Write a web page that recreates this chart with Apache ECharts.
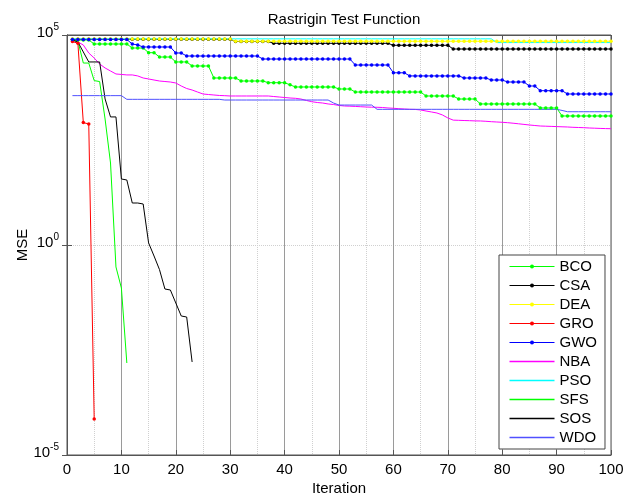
<!DOCTYPE html>
<html>
<head>
<meta charset="utf-8">
<script src="https://cdn.jsdelivr.net/npm/echarts@6/dist/echarts.min.js"></script>
<style>
html,body{margin:0;padding:0;background:#fff;}
#chart{width:632px;height:497px;}
</style>
</head>
<body>
<div id="chart"></div>
<script>
// ---- data (MSE per iteration) ----
const seriesNames = ['BCO','CSA','DEA','GRO','GWO','NBA','PSO','SFS','SOS','WDO'];
const xTicks = [0,10,20,30,40,50,60,70,80,90,100];
const yTicks = [1e-5, 1e0, 1e5];

const BCO = [76000,76000,76000,76000,
61100,61100,61100,61100,61100,61100,61100,
49000,49000,49000,
37900,37900,
29900,29900,29900,
22800,22800,22800,
18300,18300,18300,18300,
9470,9470,9470,9470,9470,
8030,8030,8030,8030,8030,
7310,7310,7310,7310,
6500,
5780,5780,5780,5780,5780,5780,5780,5780,
5180,5180,5180,
4390,4390,4390,4390,4390,4390,4390,4390,4390,4390,4390,4390,4390,
3530,3530,3530,3530,3530,3530,
2990,2990,2990,2990,
2280,2280,2280,2280,2280,2280,2280,2280,2280,2280,2280,
1830,1830,1830,1830,
1180,1180,1180,1180,1180,1180,1180,1180,1180,1180];

const CSA = [79000,79000,79000,79000,79000,79000,79000,79000,79000,79000,
79000,79000,79000,79000,79000,79000,79000,79000,79000,79000,
79000,79000,79000,79000,79000,79000,79000,79000,79000,79000,
70000,70000,70000,70000,70000,70000,70000,
63400,63400,63400,63400,63400,63400,63400,63400,63400,63400,63400,
63400,63400,63400,63400,63400,63400,63400,63400,63400,63400,63400,
56900,56900,56900,56900,56900,56900,56900,56900,56900,56900,56900,
46400,46400,46400,46400,46400,46400,46400,46400,46400,46400,
46400,46400,46400,46400,46400,46400,46400,46400,46400,46400,
46400,46400,46400,46400,46400,46400,46400,46400,46400,46400];

const DEA = [80000,80000,80000,80000,80000,80000,80000,80000,80000,80000,
80000,80000,80000,80000,80000,80000,80000,80000,80000,80000,
80000,80000,80000,80000,80000,80000,80000,80000,80000,80000,
71000,71000,71000,71000,71000,71000,71000,71000,71000,71000,
71000,71000,71000,71000,71000,71000,71000,71000,71000,71000,
71000,71000,71000,71000,71000,71000,71000,71000,71000,71000,
71000,71000,71000,71000,71000,71000,71000,71000,71000,71000,
71000,71000,71000,71000,71000,71000,71000,71000,71000,71000,
71000,71000,71000,71000,71000,71000,71000,71000,71000,71000,
71000,71000,71000,71000,71000,71000,71000,71000,71000,71000];

const GRO = [70000, 63400, 820, 761, 7.2e-5];

const GWO = [78000,78000,78000,78000,78000,78000,78000,78000,78000,78000,78000,
61100,
57800,
51800,51800,51800,51800,51800,51800,
37300,37300,
31600,31600,31600,31600,31600,31600,31600,31600,31600,31600,31600,31600,31600,31600,
26800,26800,26800,26800,26800,26800,26800,26800,26800,26800,26800,26800,26800,26800,26800,26800,26800,
19300,19300,19300,19300,19300,19300,19300,
12600,12600,12600,
10600,10600,10600,10600,10600,10600,10600,10600,10600,10600,
9470,9470,9470,9470,9470,
8480,8480,8480,
7600,7600,7600,7600,
6110,6110,
4720,4720,4720,4720,4720,
3940,3940,3940,3940,3940,3940,3940,3940,3940];

const NBA = [76000,68100,57800,37300,28300,20400,16400,13900,11800,11500,
11200,11200,10600,9470,8970,8480,8030,7810,7600,7200,
6110,5320,4900,4390,3940,3830,3730,3630,3590,3530,
3530,3530,3530,3530,3530,3530,3530,3430,3340,3250,
3160,3110,2990,2760,2580,2470,2400,2280,2210,2100,
2040,2020,1990,1960,1930,1910,1900,1880,1830,1800,
1760,1730,1700,1690,1640,1550,1470,1390,1250,1060,
940,930,920,912,900,897,882,863,849,835,
817,794,769,744,720,700,681,674,667,660,
652,645,634,628,621,611,604,597,591,587];

const PSO = [81000,81000,81000,81000,81000,81000,81000,81000,81000,81000,
81000,81000,81000,81000,81000,81000,81000,81000,81000,81000,
81000,81000,81000,81000,81000,81000,81000,81000,81000,81000,
81000,81000,81000,81000,81000,81000,81000,81000,81000,81000,
81000,81000,81000,81000,81000,81000,81000,81000,81000,81000,
81000,81000,81000,81000,81000,81000,81000,81000,81000,81000,
81000,81000,81000,81000,81000,81000,81000,81000,81000,81000,
81000,81000,81000,81000,81000,81000,81000,81000,
66000,66000,66000,66000,66000,66000,66000,66000,66000,66000,66000,
66000,66000,66000,66000,66000,66000,66000,66000,66000,66000,66000];

const SFS = [76000, 72000, 21500, 21500, 8200, 7800, 1000, 89.6, 0.3, 0.0946, 0.00155];

const SOS = [76000, 68100, 39400, 22800, 22800, 22800, 3000, 1120, 1120, 37.3,
35.3, 10, 10, 9.47, 1.12, 0.547, 0.26, 0.0896, 0.0849, 0.0416,
0.0204, 0.0193, 0.00164];

const WDO = [3600,3600,3600,3600,3600,3600,3600,3600,3600,3600,
2940,2940,2940,2940,2940,2940,2940,2940,2940,2940,2940,2940,2940,2940,2940,2940,2940,2940,
2830,2830,2830,2830,2830,2830,2830,2830,2830,2830,2830,2830,2830,2830,2830,2830,2830,2830,2830,2830,
2400,
2150,2150,2150,2150,2150,2150,2150,
1700,1700,1700,1700,1700,1700,1700,1700,1700,1700,1700,1700,1700,1700,1700,1700,1700,
1700,1700,1700,1700,1700,1700,1700,1700,1700,1700,1700,1700,1700,1700,1700,1700,1700,
1600,
1490,1490,1490,1490,1490,1490,1490,1490,1490];

const seriesValues = {BCO, CSA, DEA, GRO, GWO, NBA, PSO, SFS, SOS, WDO};

// ---- styling ----
const FONT = '"Liberation Sans", Arial, sans-serif';
const styles = {
  BCO: {color:'#00ff00', marker:true},
  CSA: {color:'#000000', marker:true},
  DEA: {color:'#ffff00', marker:true},
  GRO: {color:'#ff0000', marker:true},
  GWO: {color:'#0000ff', marker:true},
  NBA: {color:'#ff00ff', marker:false},
  PSO: {color:'#00ffff', marker:false},
  SFS: {color:'#00ff00', marker:false},
  SOS: {color:'#000000', marker:false},
  WDO: {color:'#5050ff', marker:false}
};

function toPairs(arr){ return arr.map((v,i)=>[i+1, v]); }

const series = seriesNames.map(name => ({
  name: name,
  type: 'line',
  data: toPairs(seriesValues[name]),
  xAxisIndex: 0, yAxisIndex: 0,
  symbol: styles[name].marker ? 'circle' : 'none',
  symbolSize: 3.5,
  showAllSymbol: true,
  showSymbol: styles[name].marker,
  lineStyle: {width: 1, color: styles[name].color},
  itemStyle: {color: styles[name].color},
  emphasis: {disabled: true},
  animation: false,
  clip: true
}));

const legendData = seriesNames.map(name => styles[name].marker
  ? {name: name, lineStyle: {width: 1}}
  : {name: name, icon: 'path://M0,0L45,0L45,1.6L0,1.6Z'});

function yFmt(v){
  const e = Math.round(Math.log10(v));
  return '{a|10}{b|' + e + '}';
}

const chart = echarts.init(document.getElementById('chart'), null, {renderer:'canvas'});
chart.setOption({
  backgroundColor: '#ffffff',
  animation: false,
  textStyle: {fontFamily: FONT},
  title: {
    text: 'Rastrigin Test Function',
    left: 339, top: 7, textAlign: 'center',
    textStyle: {fontSize: 15, fontWeight: 'normal', color: '#000', fontFamily: FONT}
  },
  grid: {left: 67, right: 21, top: 35, bottom: 42, show: true, borderColor: '#555', borderWidth: 1,
         containLabel: false, outerBoundsMode: 'none'},
  legend: {
    data: legendData,
    orient: 'vertical',
    left: 499, top: 255,
    padding: [4, 8, 4, 10],
    itemWidth: 45, itemHeight: 5, itemGap: 4,
    symbolKeepAspect: true,
    backgroundColor: '#fff',
    borderColor: '#444', borderWidth: 1,
    textStyle: {fontSize: 15, color: '#000', fontFamily: FONT},
    selectedMode: false
  },
  xAxis: [{
    type: 'value', min: 0, max: 100, interval: 10,
    name: 'Iteration', nameLocation: 'middle', nameGap: 26, nameMoveOverlap: false,
    nameTextStyle: {fontSize: 15, color: '#000', fontFamily: FONT},
    axisLine: {show: true, lineStyle: {color: '#555'}},
    axisTick: {show: true, inside: true, length: 5, lineStyle: {color: '#555'}},
    axisLabel: {fontSize: 15, color: '#000', margin: 7, fontFamily: FONT},
    splitLine: {show: true, lineStyle: {color: '#9a9a9a', width: 1}},
    minorTick: {show: false, splitNumber: 2},
    minorSplitLine: {show: true, lineStyle: {color: '#d0d0d0', type: 'dotted', width: 1}}
  },{
    type: 'value', min: 0, max: 100, interval: 10, position: 'top',
    axisLine: {show: true, lineStyle: {color: '#555'}},
    axisTick: {show: true, inside: true, length: 5, lineStyle: {color: '#555'}},
    axisLabel: {show: false}, splitLine: {show: false}
  }],
  yAxis: [{
    type: 'log', logBase: 10, min: 1e-5, max: 1e5, interval: 5,
    name: 'MSE', nameLocation: 'middle', nameGap: 37, nameRotate: 90, nameMoveOverlap: false,
    nameTextStyle: {fontSize: 15, color: '#000', fontFamily: FONT},
    axisLine: {show: true, lineStyle: {color: '#555'}},
    axisTick: {show: true, inside: true, length: 5, lineStyle: {color: '#555'}},
    axisLabel: {
      margin: 8, formatter: yFmt,
      rich: {
        a: {fontSize: 15, color: '#000', fontFamily: FONT, padding: [0,0,5,0]},
        b: {fontSize: 10, color: '#000', fontFamily: FONT, padding: [0,0,15,0]}
      }
    },
    splitLine: {show: true, lineStyle: {color: '#d0d0d0', type: 'dotted', width: 1}}
  },{
    type: 'log', logBase: 10, min: 1e-5, max: 1e5, interval: 5, position: 'right',
    axisLine: {show: true, lineStyle: {color: '#555'}},
    axisTick: {show: true, inside: true, length: 5, lineStyle: {color: '#555'}},
    axisLabel: {show: false}, splitLine: {show: false}
  }],
  series: series
});
</script>
</body>
</html>
